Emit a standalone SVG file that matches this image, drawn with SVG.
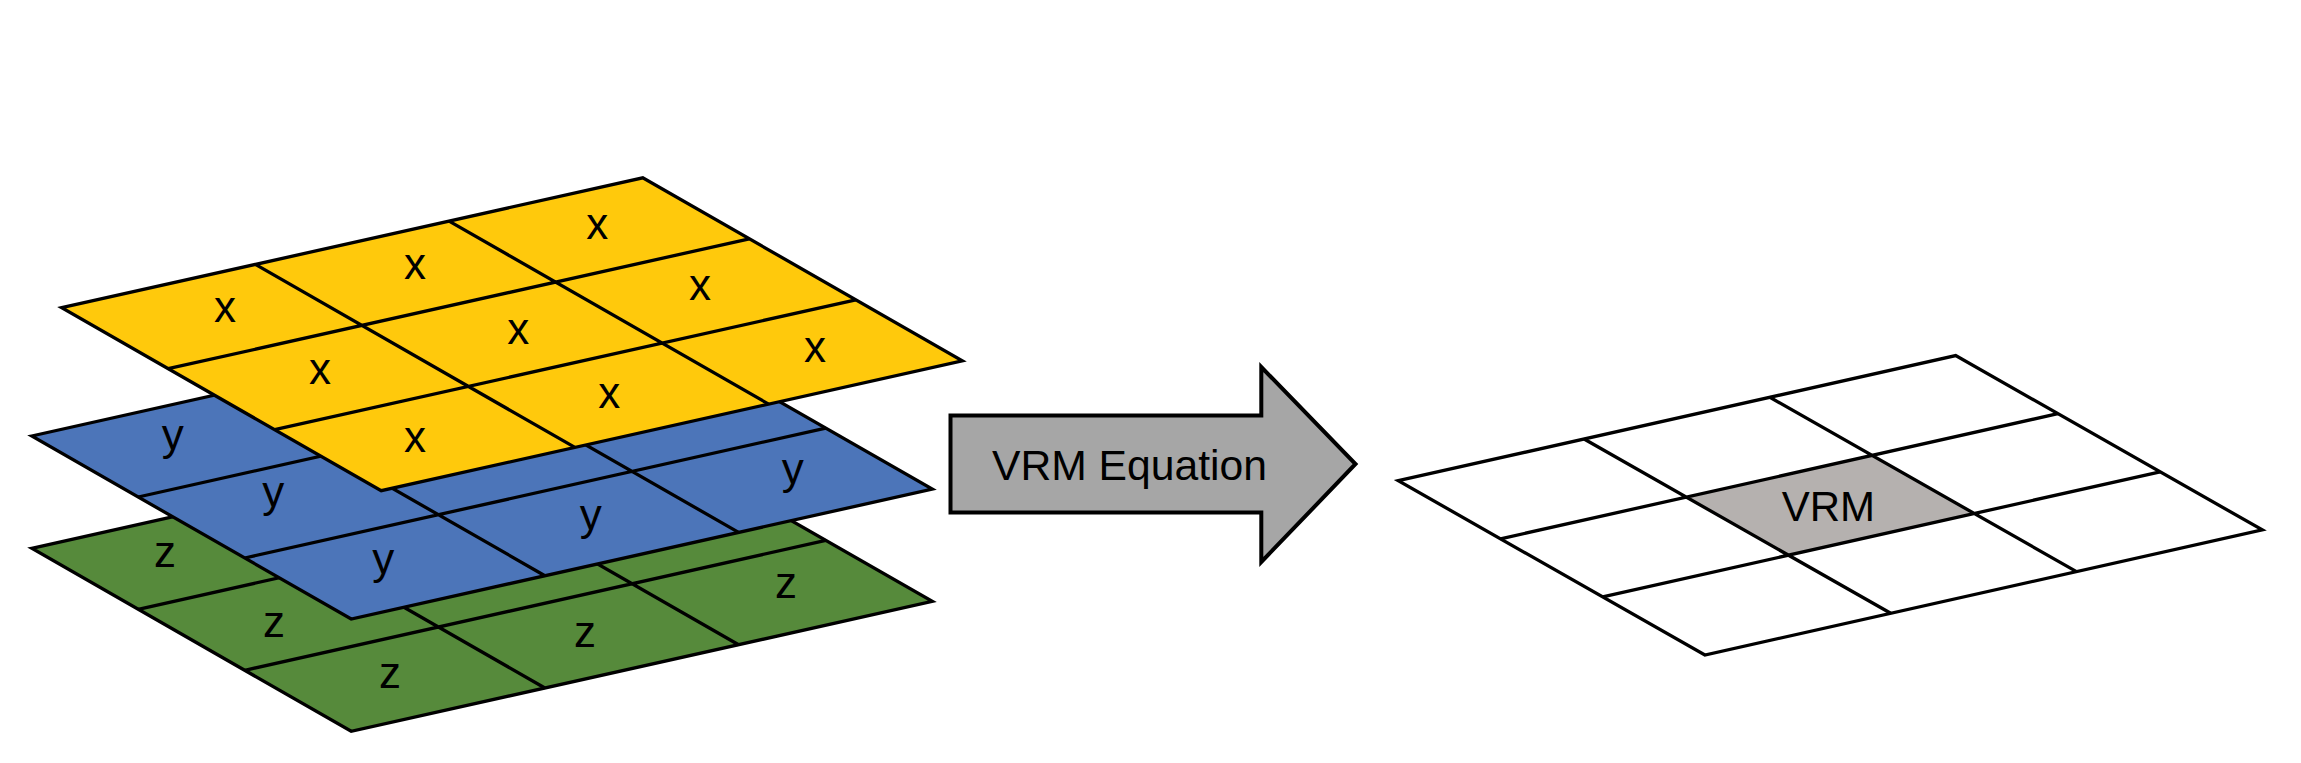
<svg xmlns="http://www.w3.org/2000/svg" width="2301" height="763" viewBox="0 0 2301 763">
<style>
.grid{stroke:#000;stroke-width:3.3;stroke-linejoin:miter;fill:none}
.lbl{font-family:"Liberation Sans",Arial,sans-serif;font-size:44px;fill:#000;text-anchor:middle}
.yellow{fill:#FFC90C}
.blue{fill:#4C75B9}
.green{fill:#568A3B}
</style>
<rect width="2301" height="763" fill="#fff"/>
<g id="layer-z">
<polygon class="green" points="31.7,548.3 612.8,418.4 932.3,601.4 351.2,731.3"/>
<path class="grid" d="M138.2,609.3L719.3,479.4M244.7,670.3L825.8,540.4M225.4,505L544.9,688M419.1,461.7L738.6,644.7"/>
<polygon class="grid" points="31.7,548.3 612.8,418.4 932.3,601.4 351.2,731.3"/>
<text class="lbl" x="165" y="567.3">z</text>
<text class="lbl" x="274" y="636.7">z</text>
<text class="lbl" x="390" y="688.3">z</text>
<text class="lbl" x="585" y="646.7">z</text>
<text class="lbl" x="786" y="598.3">z</text>
</g>
<g id="layer-y">
<polygon class="blue" points="31.7,436 612.8,306.1 932.3,489.1 351.2,619"/>
<path class="grid" d="M138.2,497L719.3,367.1M244.7,558L825.8,428.1M225.4,392.7L544.9,575.7M419.1,349.4L738.6,532.4"/>
<polygon class="grid" points="31.7,436 612.8,306.1 932.3,489.1 351.2,619"/>
<text class="lbl" x="172.7" y="449.7">y</text>
<text class="lbl" x="273.3" y="507">y</text>
<text class="lbl" x="383.3" y="573.7">y</text>
<text class="lbl" x="590.7" y="529.7">y</text>
<text class="lbl" x="792.7" y="484">y</text>
</g>
<g id="layer-x">
<polygon class="yellow" points="61.7,307.7 642.8,177.8 962.3,360.8 381.2,490.7"/>
<path class="grid" d="M168.2,368.7L749.3,238.8M274.7,429.7L855.8,299.8M255.4,264.4L574.9,447.4M449.1,221.1L768.6,404.1"/>
<polygon class="grid" points="61.7,307.7 642.8,177.8 962.3,360.8 381.2,490.7"/>
<text class="lbl" x="225" y="321.7">x</text>
<text class="lbl" x="415" y="279.3">x</text>
<text class="lbl" x="597.3" y="239">x</text>
<text class="lbl" x="320" y="384">x</text>
<text class="lbl" x="518.3" y="344">x</text>
<text class="lbl" x="700" y="300">x</text>
<text class="lbl" x="415" y="451.7">x</text>
<text class="lbl" x="609.3" y="408.3">x</text>
<text class="lbl" x="815" y="362.3">x</text>
</g>
<g id="vrm-equation-arrow">
<polygon points="950.5,415.5 1261.3,415.5 1261.3,367 1355.5,464 1261.3,562 1261.3,512.5 950.5,512.5" fill="#A6A6A6" stroke="#000" stroke-width="4" stroke-linejoin="miter"/>
<text x="992" y="479.5" font-family="'Liberation Sans',Arial,sans-serif" font-size="43" fill="#000" textLength="275" lengthAdjust="spacingAndGlyphs">VRM Equation</text>
</g>
<g id="vrm-grid">
<polygon points="1686.3,497.1 1872.1,455.4 1974.3,513.5 1788.5,555.2" fill="#B5B1AF"/>
<path class="grid" d="M1500.5,538.8L2057.9,413.7M1602.7,596.9L2160.1,471.8M1584.1,439L1890.7,613.3M1769.9,397.3L2076.5,571.6"/>
<polygon class="grid" points="1398.3,480.7 1955.7,355.6 2262.3,529.9 1704.9,655"/>
<text class="lbl" x="1828.3" y="521" style="font-size:42px">VRM</text>
</g>
</svg>
